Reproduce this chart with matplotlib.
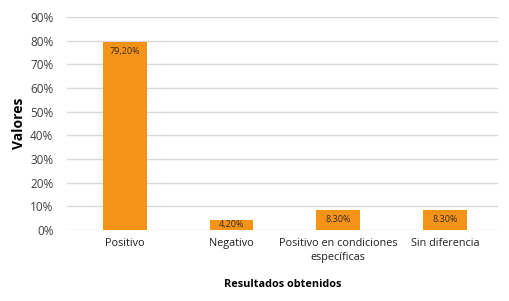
import matplotlib.pyplot as plt
import numpy as np

plt.rcParams['font.family'] = ['Open Sans', 'DejaVu Sans']

# Data
categories = ['Positivo', 'Negativo', 'Positivo en condiciones\nespecíficas', 'Sin diferencia']
values = [79.2, 4.2, 8.3, 8.3]
value_labels = ['79,20%', '4,20%', '8.30%', '8.30%']
yticks = [0, 10, 20, 30, 40, 50, 60, 70, 80, 90]

fig = plt.figure(figsize=(5.10, 3.01), dpi=100)
ax = fig.add_axes([0.132, 0.236, 0.845, 0.708])

x = np.arange(len(categories))
bars = ax.bar(x, values, width=0.41, color='#F39419', zorder=3)

for bar, lab in zip(bars, value_labels):
    h = bar.get_height()
    y = h - 4 if h > 8 else h / 2
    ax.text(bar.get_x() + bar.get_width() / 2, y, lab, ha='center', va='center',
            fontsize=6.5, color='#3a2a1a', zorder=4)

ax.set_xlim(-0.54, len(categories) - 0.5)
ax.set_ylim(0, 90)
ax.set_yticks(yticks)
ax.set_yticklabels([f'{t}%' for t in yticks], fontsize=8.5, color='#404040')
ax.set_xticks(x)
ax.set_xticklabels(categories, fontsize=7.8, color='#202020', linespacing=1.3)
ax.tick_params(axis='x', length=0, pad=6)
ax.tick_params(axis='y', length=0, pad=10)
ax.grid(axis='y', color='#dcd6d6', linewidth=1, zorder=0)
for s in ax.spines.values():
    s.set_visible(False)

ax.set_ylabel('Valores', fontsize=10, fontweight='bold', labelpad=3)
ax.set_xlabel('Resultados obtenidos', fontsize=7.8, fontweight='bold', labelpad=12)

fig.savefig('out.png', dpi=100)
